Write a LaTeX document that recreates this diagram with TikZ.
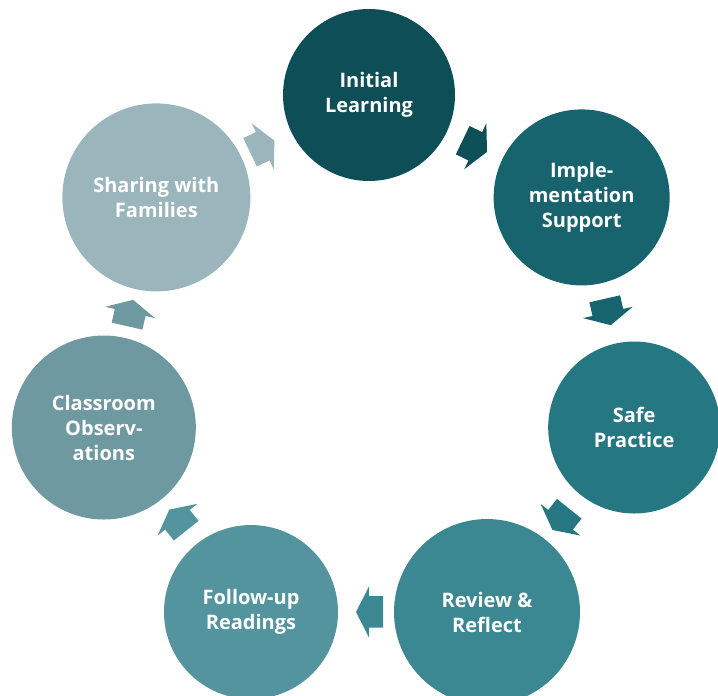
\documentclass[tikz,border=0pt]{standalone}
\usepackage{fontspec}
\setmainfont{Open Sans}
\definecolor{cA}{HTML}{0D4E57}
\definecolor{cB}{HTML}{17646E}
\definecolor{cC}{HTML}{257782}
\definecolor{cD}{HTML}{3B8893}
\definecolor{cE}{HTML}{53949F}
\definecolor{cF}{HTML}{6F99A1}
\definecolor{cG}{HTML}{9BB5BC}
\tikzset{
  stage/.style={circle, fill=#1, text=white, align=center, inner sep=0pt,
    font=\fontsize{20}{25}\selectfont\bfseries},
  pics/cycarrow/.style={code={
    \fill[#1] (-14,-15.75) -- (0,-15.75) -- (0,-25.5) -- (13,0) -- (0,25.5)
      -- (0,15.75) -- (-14,15.75) -- cycle;}}
}
\begin{document}
\begin{tikzpicture}[x=1pt,y=1pt]
\useasboundingbox (0,0) rectangle (718,696);
\clip (0,0) rectangle (718,696);
\begin{scope}[shift={(369,329)}]
  \node[stage=cA, minimum size=172pt] (n1) at (90:272) {Initial\\Learning};
  \node[stage=cB, minimum size=176pt] (n2) at ({90-360/7}:272) {Imple-\\mentation\\Support};
  \node[stage=cC, minimum size=172pt] (n3) at ({90-2*360/7}:272) {Safe\\Practice};
  \node[stage=cD, minimum size=186pt] (n4) at ({90-3*360/7}:272) {Review \&\\Reflect};
  \node[stage=cE, minimum size=174pt] (n5) at ({90-4*360/7}:272) {Follow-up\\Readings};
  \node[stage=cF, minimum size=184pt] (n6) at ({90-5*360/7}:272) {Classroom\\Observ-\\ations};
  \node[stage=cG, minimum size=188pt] (n7) at ({90-6*360/7}:272) {Sharing with\\Families};
  \pic[rotate={-0.5*360/7}] at ({90-0.5*360/7}:245) {cycarrow=cA};
  \pic[rotate={-1.5*360/7}] at ({90-1.5*360/7}:245) {cycarrow=cB};
  \pic[rotate={-2.5*360/7}] at ({90-2.5*360/7}:245) {cycarrow=cC};
  \pic[rotate={-3.5*360/7}] at ({90-3.5*360/7}:245) {cycarrow=cD};
  \pic[rotate={-4.5*360/7}] at ({90-4.5*360/7}:245) {cycarrow=cE};
  \pic[rotate={-5.5*360/7}] at ({90-5.5*360/7}:245) {cycarrow=cF};
  \pic[rotate={-6.5*360/7}] at ({90-6.5*360/7}:245) {cycarrow=cG};
\end{scope}
\end{tikzpicture}
\end{document}
